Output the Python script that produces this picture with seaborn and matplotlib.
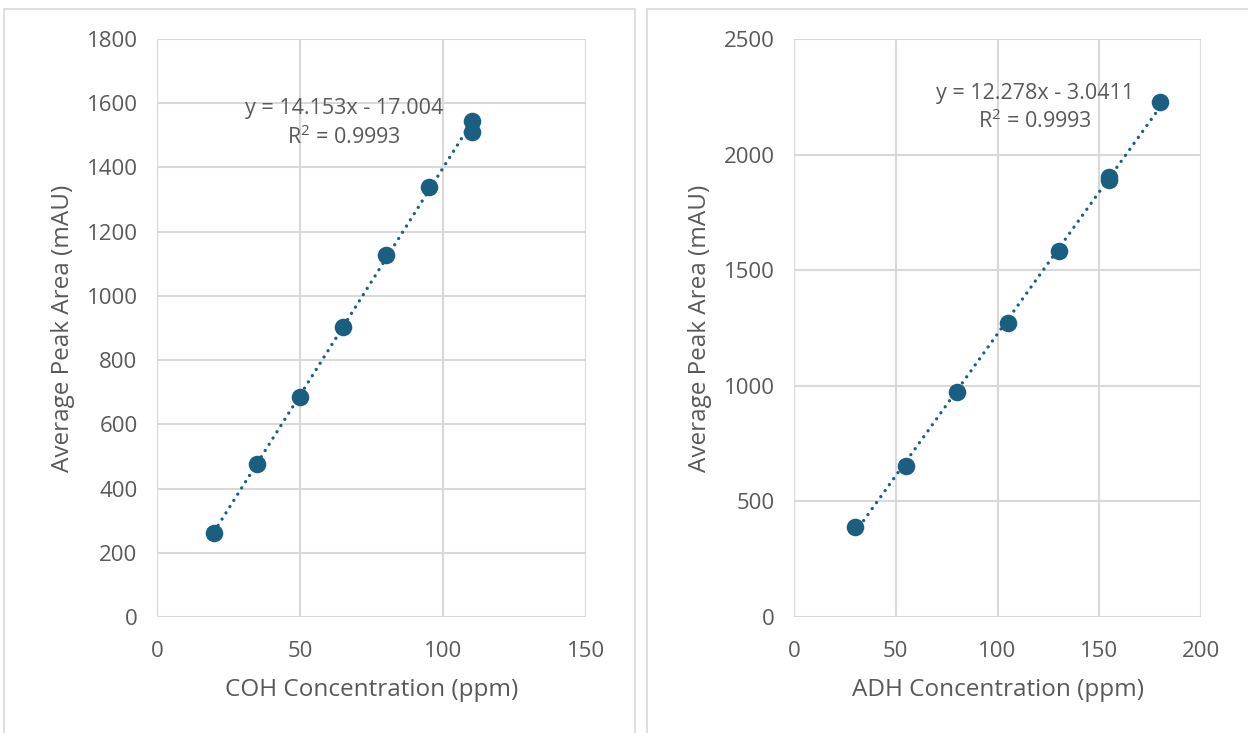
import numpy as np
import matplotlib
matplotlib.use("Agg")
import matplotlib.pyplot as plt
from matplotlib.patches import Rectangle
import seaborn as sns
import pandas as pd

# Calibration data
coh_conc = [20, 35, 50, 65, 80, 95, 110, 110]
coh_area = [262, 476, 685, 903, 1127, 1339, 1545, 1510]
coh_slope, coh_intercept, coh_r2 = 14.153, -17.004, 0.9993

adh_conc = [30, 55, 80, 105, 130, 155, 155, 180]
adh_area = [389, 653, 973, 1272, 1583, 1888, 1903, 2228]
adh_slope, adh_intercept, adh_r2 = 12.278, -3.0411, 0.9993

sns.set_theme(style="whitegrid")
plt.rcParams["font.family"] = ["Open Sans", "DejaVu Sans"]
plt.rcParams["mathtext.fontset"] = "custom"
plt.rcParams["mathtext.rm"] = "Open Sans"

TEXT = "#595959"
GRID = "#d9d9d9"
MARK = "#1a5f82"

fig = plt.figure(figsize=(12.48, 7.33), dpi=100)

# chart frames
fig.patches.append(Rectangle((4 / 1248, -0.05), 631 / 1248, 1.05 - 9 / 733,
                             transform=fig.transFigure, fill=False,
                             edgecolor=GRID, linewidth=1.2))
fig.patches.append(Rectangle((647 / 1248, -0.05), 0.6, 1.05 - 9 / 733,
                             transform=fig.transFigure, fill=False,
                             edgecolor=GRID, linewidth=1.2))

ax1 = fig.add_axes([157 / 1248, 116 / 733, 429 / 1248, 578 / 733])
ax2 = fig.add_axes([794 / 1248, 116 / 733, 407 / 1248, 578 / 733])


def draw(ax, conc, area, slope, intercept, r2, xmax, xstep, ymax, ystep,
         xlabel, eq_xy):
    df = pd.DataFrame({"conc": conc, "area": area})
    xs = np.array([min(conc), max(conc)])
    ax.plot(xs, slope * xs + intercept, linestyle=(0, (0.01, 2.2)),
            dash_capstyle="round", color=MARK, linewidth=2.4, zorder=2)
    sns.scatterplot(data=df, x="conc", y="area", ax=ax, s=160, color=MARK,
                    edgecolor=MARK, linewidth=0, zorder=3, legend=False)
    ax.set_xlim(0, xmax)
    ax.set_ylim(0, ymax)
    ax.set_xticks(np.arange(0, xmax + 1, xstep))
    ax.set_yticks(np.arange(0, ymax + 1, ystep))
    ax.grid(True, color=GRID, linewidth=1.5)
    for s in ax.spines.values():
        s.set_visible(False)
    ax.tick_params(length=0, labelsize=16, colors=TEXT, pad=14)
    ax.tick_params(axis="x", pad=17)
    ax.set_xlabel(xlabel, fontsize=17.5, color=TEXT, labelpad=12)
    ax.set_ylabel("Average Peak Area (mAU)", fontsize=17.5, color=TEXT,
                  labelpad=8)
    sign = "-" if intercept < 0 else "+"
    ax.text(eq_xy[0], eq_xy[1],
            f"y = {slope}x {sign} {abs(intercept)}\nR$^2$ = {r2}",
            ha="center", va="center", fontsize=15.5, color=TEXT,
            linespacing=1.3, zorder=4)


draw(ax1, coh_conc, coh_area, coh_slope, coh_intercept, coh_r2,
     150, 50, 1800, 200, "COH Concentration (ppm)", (65.5, 1537))
draw(ax2, adh_conc, adh_area, adh_slope, adh_intercept, adh_r2,
     200, 50, 2500, 500, "ADH Concentration (ppm)", (118.5, 2202))

fig.savefig("out.png", dpi=100)
